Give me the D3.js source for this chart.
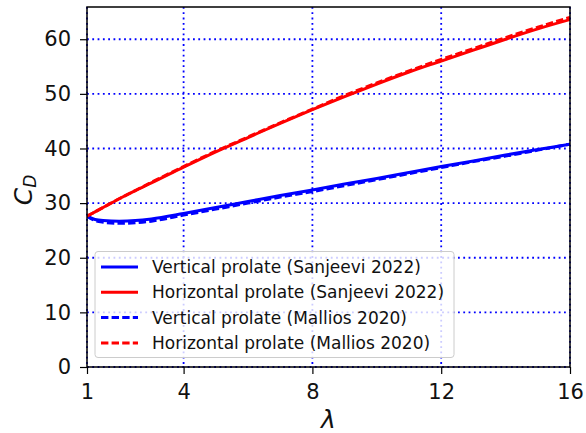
<!DOCTYPE html>
<html><head><meta charset="utf-8">
<script src="https://cdn.jsdelivr.net/npm/d3@7"></script>
<style>body{margin:0;background:#fff;} svg{display:block;}</style>
</head><body>
<svg id="c" width="586" height="433"></svg>
<script>
const lambda = [1, 1.25, 1.5, 2, 2.5, 3, 4, 5, 6, 7, 8, 9, 10, 11, 12, 13, 14, 15, 16];
const vertSanjeevi = [27.6, 27.0, 26.8, 26.7, 26.8, 27.1, 28.1, 29.2, 30.3, 31.4, 32.4, 33.5, 34.5, 35.6, 36.7, 37.7, 38.8, 39.8, 40.8];
const horzSanjeevi = [27.6, 28.4, 29.2, 30.8, 32.3, 33.7, 36.6, 39.4, 42.0, 44.6, 47.1, 49.5, 51.8, 54.0, 56.0, 58.0, 60.0, 61.9, 63.6];
const vertMallios = [27.6, 26.8, 26.5, 26.3, 26.4, 26.7, 27.8, 28.9, 30.0, 31.1, 32.1, 33.2, 34.3, 35.4, 36.5, 37.6, 38.6, 39.7, 40.8];
const horzMallios = [27.6, 28.4, 29.2, 30.8, 32.3, 33.8, 36.7, 39.5, 42.1, 44.7, 47.2, 49.7, 52.0, 54.2, 56.3, 58.3, 60.3, 62.2, 64.0];
const xTicks = [1, 4, 8, 12, 16];
const yTicks = [0, 10, 20, 30, 40, 50, 60];
const seriesNames = ["Vertical prolate (Sanjeevi 2022)", "Horizontal prolate (Sanjeevi 2022)", "Vertical prolate (Mallios 2020)", "Horizontal prolate (Mallios 2020)"];

const series = [
  {name: seriesNames[0], vals: vertSanjeevi, color: "#0000ff", dash: null},
  {name: seriesNames[1], vals: horzSanjeevi, color: "#ff0000", dash: null},
  {name: seriesNames[2], vals: vertMallios, color: "#0000ff", dash: "7.4,3.2"},
  {name: seriesNames[3], vals: horzMallios, color: "#ff0000", dash: "7.4,3.2"}
];

const svg = d3.select("#c");
const L = 87, R = 570, T = 7, B = 367;
const x = d3.scaleLinear().domain([1, 16]).range([L, R]);
const y = d3.scaleLinear().domain([0, 65.9]).range([B, T]);
const font = "DejaVu Sans, sans-serif";

// grid
const grid = svg.append("g");
grid.selectAll("line.gx").data(xTicks).join("line")
  .attr("x1", d => x(d)).attr("x2", d => x(d)).attr("y1", T).attr("y2", B)
  .attr("stroke", "#0000ff").attr("stroke-width", 1.8).attr("stroke-dasharray", "1.8,3.5");
grid.selectAll("line.gy").data(yTicks).join("line")
  .attr("x1", L).attr("x2", R).attr("y1", d => y(d)).attr("y2", d => y(d))
  .attr("stroke", "#0000ff").attr("stroke-width", 1.8).attr("stroke-dasharray", "1.8,3.5");

// lines
const line = d3.line().curve(d3.curveMonotoneX).x((d, i) => x(lambda[i])).y(d => y(d));
svg.append("clipPath").attr("id", "clp").append("rect").attr("x", L).attr("y", T).attr("width", R - L).attr("height", B - T);
series.forEach(s => {
  svg.append("path").attr("d", line(s.vals)).attr("fill", "none")
    .attr("stroke", s.color).attr("stroke-width", 3)
    .attr("stroke-dasharray", s.dash).attr("clip-path", "url(#clp)");
});

// axes
const xAxis = d3.axisBottom(x).tickValues(xTicks).tickSize(7).tickPadding(10).tickFormat(d3.format("d"));
const yAxis = d3.axisLeft(y).tickValues(yTicks).tickSize(7).tickPadding(9).tickFormat(d3.format("d"));
const gx = svg.append("g").attr("transform", `translate(0,${B})`).call(xAxis);
const gy = svg.append("g").attr("transform", `translate(${L},0)`).call(yAxis);
[gx, gy].forEach(g => {
  g.select(".domain").remove();
  g.selectAll("line").attr("stroke", "#000").attr("stroke-width", 1.2);
  g.selectAll("text").attr("font-family", font).attr("font-size", 21).attr("fill", "#111");
});
gx.selectAll("text").attr("dy", "0.71em");
svg.append("rect").attr("x", L).attr("y", T).attr("width", R - L).attr("height", B - T)
  .attr("fill", "none").attr("stroke", "#000").attr("stroke-width", 1.5);

// axis labels
svg.append("text").attr("x", (L + R) / 2).attr("y", 428).attr("text-anchor", "middle")
  .attr("font-family", font).attr("font-style", "italic").attr("font-size", 25).attr("fill", "#111").text("λ");
const yl = svg.append("text").attr("transform", "translate(32,190) rotate(-90)").attr("text-anchor", "middle")
  .attr("font-family", font).attr("font-style", "italic").attr("font-size", 25).attr("fill", "#111");
yl.append("tspan").text("C");
yl.append("tspan").attr("font-size", 17).attr("dy", 4).text("D");

// legend
const lg = svg.append("g");
lg.append("rect").attr("x", 95).attr("y", 251.5).attr("width", 359).attr("height", 106).attr("rx", 3)
  .attr("fill", "#fff").attr("fill-opacity", 0.8).attr("stroke", "#cccccc").attr("stroke-width", 1);
series.forEach((s, i) => {
  const yy = 267 + i * 25.3;
  lg.append("line").attr("x1", 101).attr("x2", 138).attr("y1", yy).attr("y2", yy)
    .attr("stroke", s.color).attr("stroke-width", 3).attr("stroke-dasharray", s.dash);
  lg.append("text").attr("x", 152).attr("y", yy).attr("dy", "0.35em")
    .attr("font-family", font).attr("font-size", 17).attr("fill", "#111").text(s.name);
});
</script>
</body></html>
